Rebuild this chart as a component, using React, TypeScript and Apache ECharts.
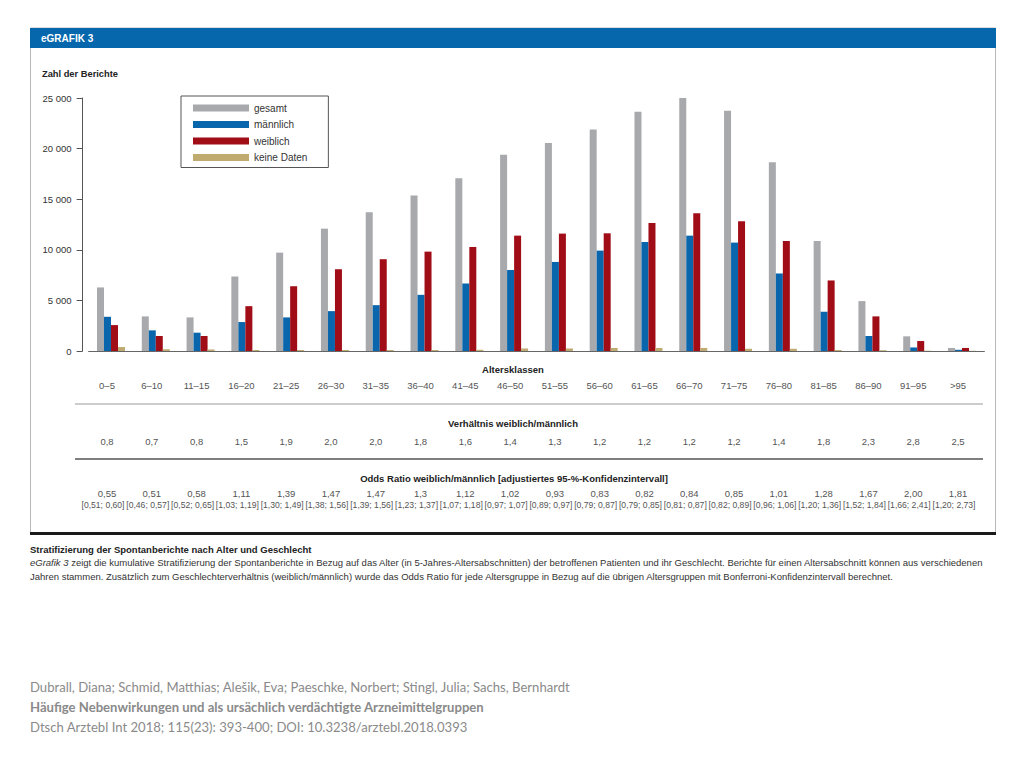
import React, { useEffect, useRef } from "react";
import * as echarts from "echarts";

const categories = ["0–5", "6–10", "11–15", "16–20", "21–25", "26–30", "31–35", "36–40", "41–45", "46–50", "51–55", "56–60", "61–65", "66–70", "71–75", "76–80", "81–85", "86–90", "91–95", ">95"];
const gesamt = [6280, 3420, 3320, 7360, 9720, 12090, 13700, 15370, 17080, 19380, 20560, 21880, 23650, 25160, 23750, 18660, 10870, 4930, 1450, 300];
const maennlich = [3380, 2040, 1810, 2860, 3320, 3940, 4530, 5550, 6670, 8010, 8800, 9920, 10770, 11400, 10710, 7660, 3880, 1480, 350, 120];
const weiblich = [2560, 1480, 1480, 4430, 6400, 8080, 9070, 9820, 10280, 11400, 11600, 11630, 12650, 13600, 12810, 10870, 6970, 3420, 985, 300];
const keineDaten = [390, 170, 150, 100, 100, 100, 100, 100, 120, 250, 250, 300, 300, 300, 220, 220, 100, 80, 30, 20];
const ratio = ["0,8", "0,7", "0,8", "1,5", "1,9", "2,0", "2,0", "1,8", "1,6", "1,4", "1,3", "1,2", "1,2", "1,2", "1,2", "1,4", "1,8", "2,3", "2,8", "2,5"];
const oddsRatio = ["0,55", "0,51", "0,58", "1,11", "1,39", "1,47", "1,47", "1,3", "1,12", "1,02", "0,93", "0,83", "0,82", "0,84", "0,85", "1,01", "1,28", "1,67", "2,00", "1,81"];
const ci = ["[0,51; 0,60]", "[0,46; 0,57]", "[0,52; 0,65]", "[1,03; 1,19]", "[1,30; 1,49]", "[1,38; 1,56]", "[1,39; 1,56]", "[1,23; 1,37]", "[1,07; 1,18]", "[0,97; 1,07]", "[0,89; 0,97]", "[0,79; 0,87]", "[0,79; 0,85]", "[0,81; 0,87]", "[0,82; 0,89]", "[0,96; 1,06]", "[1,20; 1,36]", "[1,52; 1,84]", "[1,66; 2,41]", "[1,20; 2,73]"];
const yTicks = [0, 5000, 10000, 15000, 20000, 25000];

const FONT = "Liberation Sans, Arial, sans-serif";
const CITE_FONT = "Lato, Liberation Sans, sans-serif";

const fmtThousands = (v: number) => String(v).replace(/\B(?=(\d{3})+(?!\d))/g, " ");

export default function App() {
  const ref = useRef<HTMLDivElement>(null);
  useEffect(() => {
    if (!ref.current) return;
    const chart = echarts.init(ref.current, undefined, { renderer: "svg" });
    const gridLeft = 88.6;
    const gridRight = 39.6;
    const labelBase = {
      interval: 0,
      hideOverlap: false,
      fontFamily: FONT,
      fontSize: 9.5,
      color: "#555",
      padding: [0, 8, 0, 0],
    };
    const extraAxis = (margin: number, formatter: any, lineHeight: number, rich?: any) => ({
      type: "category",
      gridIndex: 0,
      position: "bottom",
      data: categories,
      axisLine: { show: false },
      axisTick: { show: false },
      splitLine: { show: false },
      axisLabel: { ...labelBase, margin, lineHeight, formatter, ...(rich ? { rich } : {}) },
    });
    const text = (x: number, y: number, t: string, opts: any = {}) => ({
      type: "text",
      x,
      y,
      silent: true,
      style: {
        text: t,
        fontFamily: FONT,
        fontSize: 9.5,
        fill: "#333",
        align: "left",
        verticalAlign: "middle",
        ...opts,
      },
    });
    const option: any = {
      animation: false,
      backgroundColor: "#ffffff",
      textStyle: { fontFamily: FONT },
      grid: { left: gridLeft, right: gridRight, top: 98, bottom: 768 - 351, containLabel: false },
      legend: {
        orient: "vertical",
        left: 181,
        top: 96,
        padding: [6, 21, 4, 12],
        itemWidth: 56,
        itemHeight: 7,
        itemGap: 4.5,
        icon: "rect",
        borderColor: "#555",
        borderWidth: 1,
        backgroundColor: "#fff",
        textStyle: { fontFamily: FONT, fontSize: 10, lineHeight: 12, color: "#333" },
        data: ["gesamt", "männlich", "weiblich", "keine Daten"],
      },
      xAxis: [
        {
          type: "category",
          data: categories,
          axisLine: { show: true, lineStyle: { color: "#666", width: 1 } },
          axisTick: { show: false },
          axisLabel: { ...labelBase, margin: 28.5, lineHeight: 12 },
        },
        extraAxis(84, (_v: string, i: number) => ratio[i], 12),
        extraAxis(137, (_v: string, i: number) => `${oddsRatio[i]}\n{c|${ci[i]}}`, 11.5, {
          c: { fontFamily: FONT, fontSize: 8.6, color: "#555", lineHeight: 11.5, padding: [0, 8, 0, 0] },
        }),
      ],
      yAxis: {
        type: "value",
        min: yTicks[0],
        max: yTicks[yTicks.length - 1],
        interval: yTicks[1] - yTicks[0],
        offset: 6,
        axisLine: { show: true, lineStyle: { color: "#555", width: 1 } },
        axisTick: { show: true, length: 6, lineStyle: { color: "#555" } },
        splitLine: { show: false },
        axisLabel: { fontFamily: FONT, fontSize: 9.5, color: "#333", margin: 11, formatter: (v: number) => fmtThousands(v) },
      },
      series: [
        { name: "gesamt", type: "bar", data: gesamt, barWidth: 7, barGap: "0%", itemStyle: { color: "#a7a9ac" } },
        { name: "männlich", type: "bar", data: maennlich, barWidth: 7, barGap: "0%", itemStyle: { color: "#0966ad" } },
        { name: "weiblich", type: "bar", data: weiblich, barWidth: 7, barGap: "0%", itemStyle: { color: "#a10d16" } },
        { name: "keine Daten", type: "bar", data: keineDaten, barWidth: 7, barGap: "0%", itemStyle: { color: "#bfab6f" } },
      ],
      graphic: [
        { type: "rect", silent: true, z: -10, shape: { x: 30.5, y: 28, width: 965, height: 506 }, style: { fill: "#fff", stroke: "#b8b8b8", lineWidth: 1 } },
        { type: "rect", silent: true, shape: { x: 30, y: 28, width: 966, height: 20 }, style: { fill: "#0767ad" } },
        text(41, 38.5, "eGRAFIK 3", { fill: "#fff", fontWeight: "bold", fontSize: 10 }),
        text(42, 74, "Zahl der Berichte", { fontWeight: "bold", fontSize: 9.3, fill: "#222" }),
        text(513, 369, "Altersklassen", { fontWeight: "bold", align: "center", fill: "#222" }),
        text(513, 423.5, "Verhältnis weiblich/männlich", { fontWeight: "bold", align: "center", fill: "#222" }),
        text(514, 478, "Odds Ratio weiblich/männlich [adjustiertes 95-%-Konfidenzintervall]", { fontWeight: "bold", align: "center", fill: "#222" }),
        { type: "line", silent: true, shape: { x1: 75, y1: 404, x2: 983, y2: 404 }, style: { stroke: "#9a9a9a", lineWidth: 1 } },
        { type: "line", silent: true, shape: { x1: 75, y1: 459, x2: 983, y2: 459 }, style: { stroke: "#555", lineWidth: 1.5 } },
        { type: "line", silent: true, shape: { x1: 30, y1: 533.5, x2: 996, y2: 533.5 }, style: { stroke: "#1a1a1a", lineWidth: 3 } },
        text(30, 549, "Stratifizierung der Spontanberichte nach Alter und Geschlecht", { fontWeight: "bold", fontSize: 9.5, fill: "#222" }),
        text(30, 562.5, "{i|eGrafik 3} zeigt die kumulative Stratifizierung der Spontanberichte in Bezug auf das Alter (in 5-Jahres-Altersabschnitten) der betroffenen Patienten und ihr Geschlecht. Berichte für einen Altersabschnitt können aus verschiedenen", {
          fontSize: 9.5,
          fill: "#333",
          rich: { i: { fontStyle: "italic", fontFamily: FONT, fontSize: 9.5, fill: "#333" } },
        }),
        text(30, 576.5, "Jahren stammen. Zusätzlich zum Geschlechterverhältnis (weiblich/männlich) wurde das Odds Ratio für jede Altersgruppe in Bezug auf die übrigen Altersgruppen mit Bonferroni-Konfidenzintervall berechnet.", { fontSize: 9.5, fill: "#333" }),
        text(30, 687, "Dubrall, Diana; Schmid, Matthias; Alešik, Eva; Paeschke, Norbert; Stingl, Julia; Sachs, Bernhardt", { fontFamily: CITE_FONT, fontSize: 13.1, fill: "#8a8a8a" }),
        text(30, 707, "Häufige Nebenwirkungen und als ursächlich verdächtigte Arzneimittelgruppen", { fontFamily: CITE_FONT, fontSize: 13.1, fontWeight: "bold", fill: "#8a8a8a" }),
        text(30, 727, "Dtsch Arztebl Int 2018; 115(23): 393-400; DOI: 10.3238/arztebl.2018.0393", { fontFamily: CITE_FONT, fontSize: 13.1, fill: "#8a8a8a" }),
      ],
    };
    chart.setOption(option);
    return () => chart.dispose();
  }, []);
  return <div ref={ref} style={{ position: "absolute", left: 0, top: 0, width: 1024, height: 768 }} />;
}
